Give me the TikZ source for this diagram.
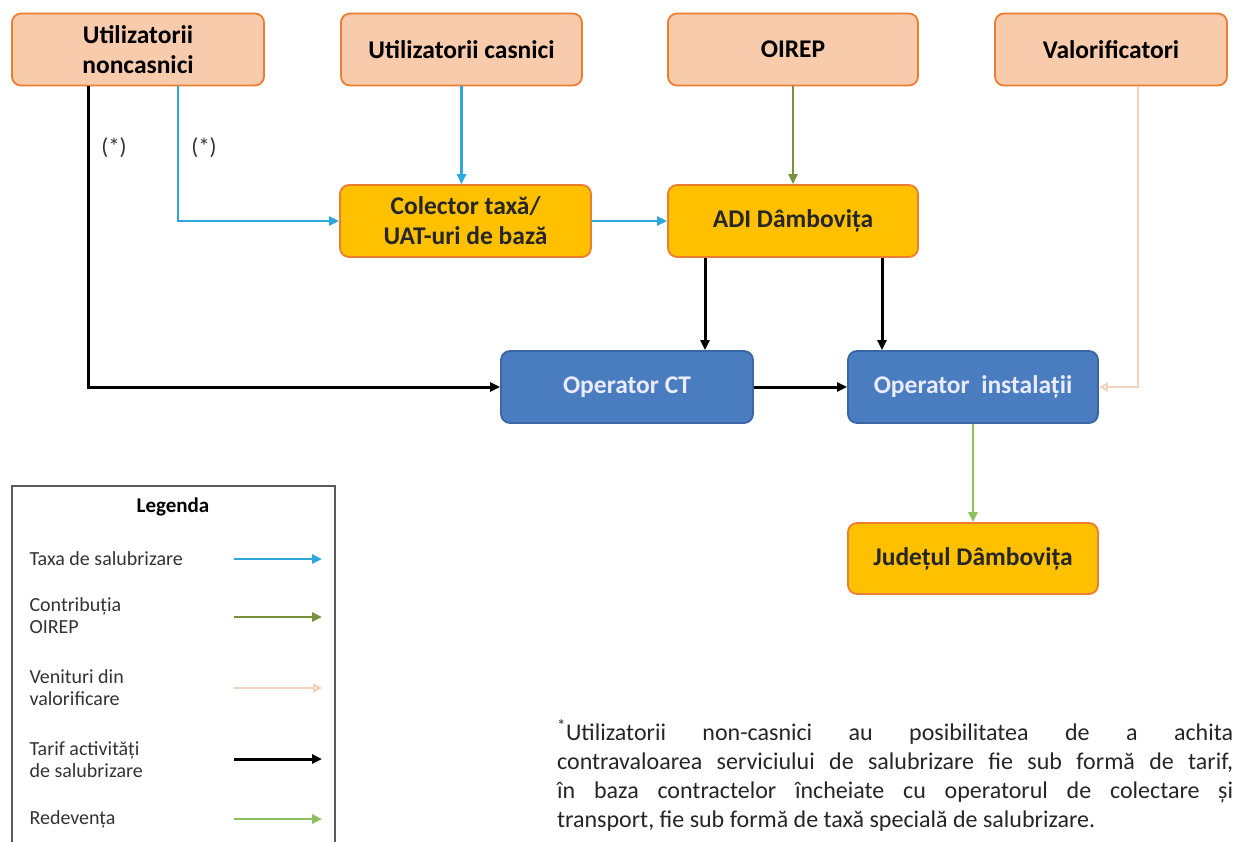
\documentclass[tikz,border=0pt]{standalone}
\usepackage{fontspec}
\setmainfont{Carlito}
\usetikzlibrary{arrows.meta,positioning}
\definecolor{peachfill}{HTML}{F8CBAD}
\definecolor{orangeline}{HTML}{ED7D31}
\definecolor{goldfill}{HTML}{FFC000}
\definecolor{bluefill}{HTML}{4A7CC0}
\definecolor{blueline}{HTML}{3A66A4}
\definecolor{taxblue}{HTML}{2EA8DC}
\definecolor{olive}{HTML}{76923C}
\definecolor{peachline}{HTML}{F2D3BC}
\definecolor{redgreen}{HTML}{8CC05C}
\definecolor{legline}{HTML}{595959}
\tikzset{
  box/.style={draw=orangeline, line width=1.8pt, rounded corners=9pt, minimum width=250pt, minimum height=72pt, align=center, font=\bfseries\fontsize{25.5}{30}\selectfont, text=black, inner sep=2pt},
  topbox/.style={box, fill=peachfill},
  midbox/.style={box, fill=goldfill, text=black!85},
  opbox/.style={box, draw=blueline, fill=bluefill, text=white!92!blue},
  conn/.style={line width=2.8pt, -{Triangle[length=10pt,width=9pt]}},
  taxa/.style={conn, draw=taxblue},
  contr/.style={conn, draw=olive},
  venit/.style={conn, draw=peachline, line width=2pt, -{Triangle[open,length=9pt,width=9pt]}},
  tarif/.style={conn, draw=black, line width=3pt},
  redev/.style={conn, draw=redgreen},
  legtext/.style={anchor=west, align=left, font=\fontsize{20}{22}\selectfont, text=black!80},
  starlbl/.style={font=\fontsize{23}{24}\selectfont, text=black!80}
}
\begin{document}
\begin{tikzpicture}[x=1pt,y=-1pt]
\useasboundingbox (0,0) rectangle (1238,841);
\fill[white] (0,0) rectangle (1238,841);

% top boxes
\node[topbox, minimum width=252pt] (nonc) at (138,49.5) {Utilizatorii\\noncasnici};
\node[topbox, minimum width=241pt] (casn) at (461.5,49.5) {Utilizatorii casnici};
\node[topbox] (oirep) at (793,49.5) {OIREP};
\node[topbox, minimum width=232pt] (valo) at (1111,49.5) {Valorificatori};

% middle boxes
\node[midbox, minimum width=251pt] (colec) at (465.5,221) {Colector taxă/\\UAT-uri de bază};
\node[midbox] (adi) at (793,221) {ADI Dâmbovița};

% operators
\node[opbox, minimum width=252pt] (opct) at (627,387) {Operator CT};
\node[opbox] (opin) at (973,387) {Operator\ \ instalații};

% judet
\node[midbox, minimum height=71pt] (jud) at (973,558.5) {Județul Dâmbovița};

% connectors
\coordinate (nb) at (88,387);
\coordinate (cb) at (178,221);
\coordinate (vb) at (1138,387);
\draw[tarif] (nonc.south -| nb) -- (nb) -- (opct.west);
\draw[taxa] (nonc.south -| cb) -- (cb) -- (colec.west);
\draw[taxa] (casn.south) -- (casn.south |- colec.north);
\draw[taxa] (colec.east) -- (adi.west);
\draw[contr] (oirep.south) -- (adi.north);
\draw[tarif] ([xshift=-88pt]adi.south) -- ([xshift=-88pt]adi.south |- opct.north);
\draw[tarif] ([xshift=89pt]adi.south) -- ([xshift=89pt]adi.south |- opin.north);
\draw[tarif] (opct.east) -- (opin.west);
\draw[venit] (valo.south -| vb) -- (vb) -- (opin.east);
\draw[redev] (opin.south) -- (jud.north);

\node[starlbl] (s1) at (114,148) {(*)};
\node[starlbl] (s2) at (204,148) {(*)};

% legend
\draw[legline, line width=1.5pt] (12,486) rectangle (335,850);
\node[font=\bfseries\fontsize{21}{24}\selectfont] (legt) at (173,507) {Legenda};
\node[legtext] (l1) at (26,559) {Taxa de salubrizare};
\node[legtext] (l2) at (26,616) {Contribuția\\OIREP};
\node[legtext] (l3) at (26,688) {Venituri din\\valorificare};
\node[legtext] (l4) at (26,760) {Tarif activități\\de salubrizare};
\node[legtext] (l5) at (26,819) {Redevența};
\coordinate (a1s) at (234,559); \coordinate (a1e) at (322,559);
\coordinate (a2s) at (234,617); \coordinate (a2e) at (322,617);
\coordinate (a3s) at (234,688); \coordinate (a3e) at (322,688);
\coordinate (a4s) at (234,759); \coordinate (a4e) at (322,759);
\coordinate (a5s) at (234,819); \coordinate (a5e) at (322,819);
\draw[taxa] (a1s) -- (a1e);
\draw[contr] (a2s) -- (a2e);
\draw[venit] (a3s) -- (a3e);
\draw[tarif] (a4s) -- (a4e);
\draw[redev] (a5s) -- (a5e);

% footnote
\node[anchor=north west, text width=676pt, align=justify, inner sep=0pt, font=\fontsize{24}{29}\selectfont, text=black!85] (foot) at (557,719)
{\textsuperscript{*}Utilizatorii non-casnici au posibilitatea de a achita\linebreak contravaloarea serviciului de salubrizare fie sub formă de tarif,\linebreak în baza contractelor încheiate cu operatorul de colectare și\linebreak transport, fie sub formă de taxă specială de salubrizare.};
\end{tikzpicture}
\end{document}
